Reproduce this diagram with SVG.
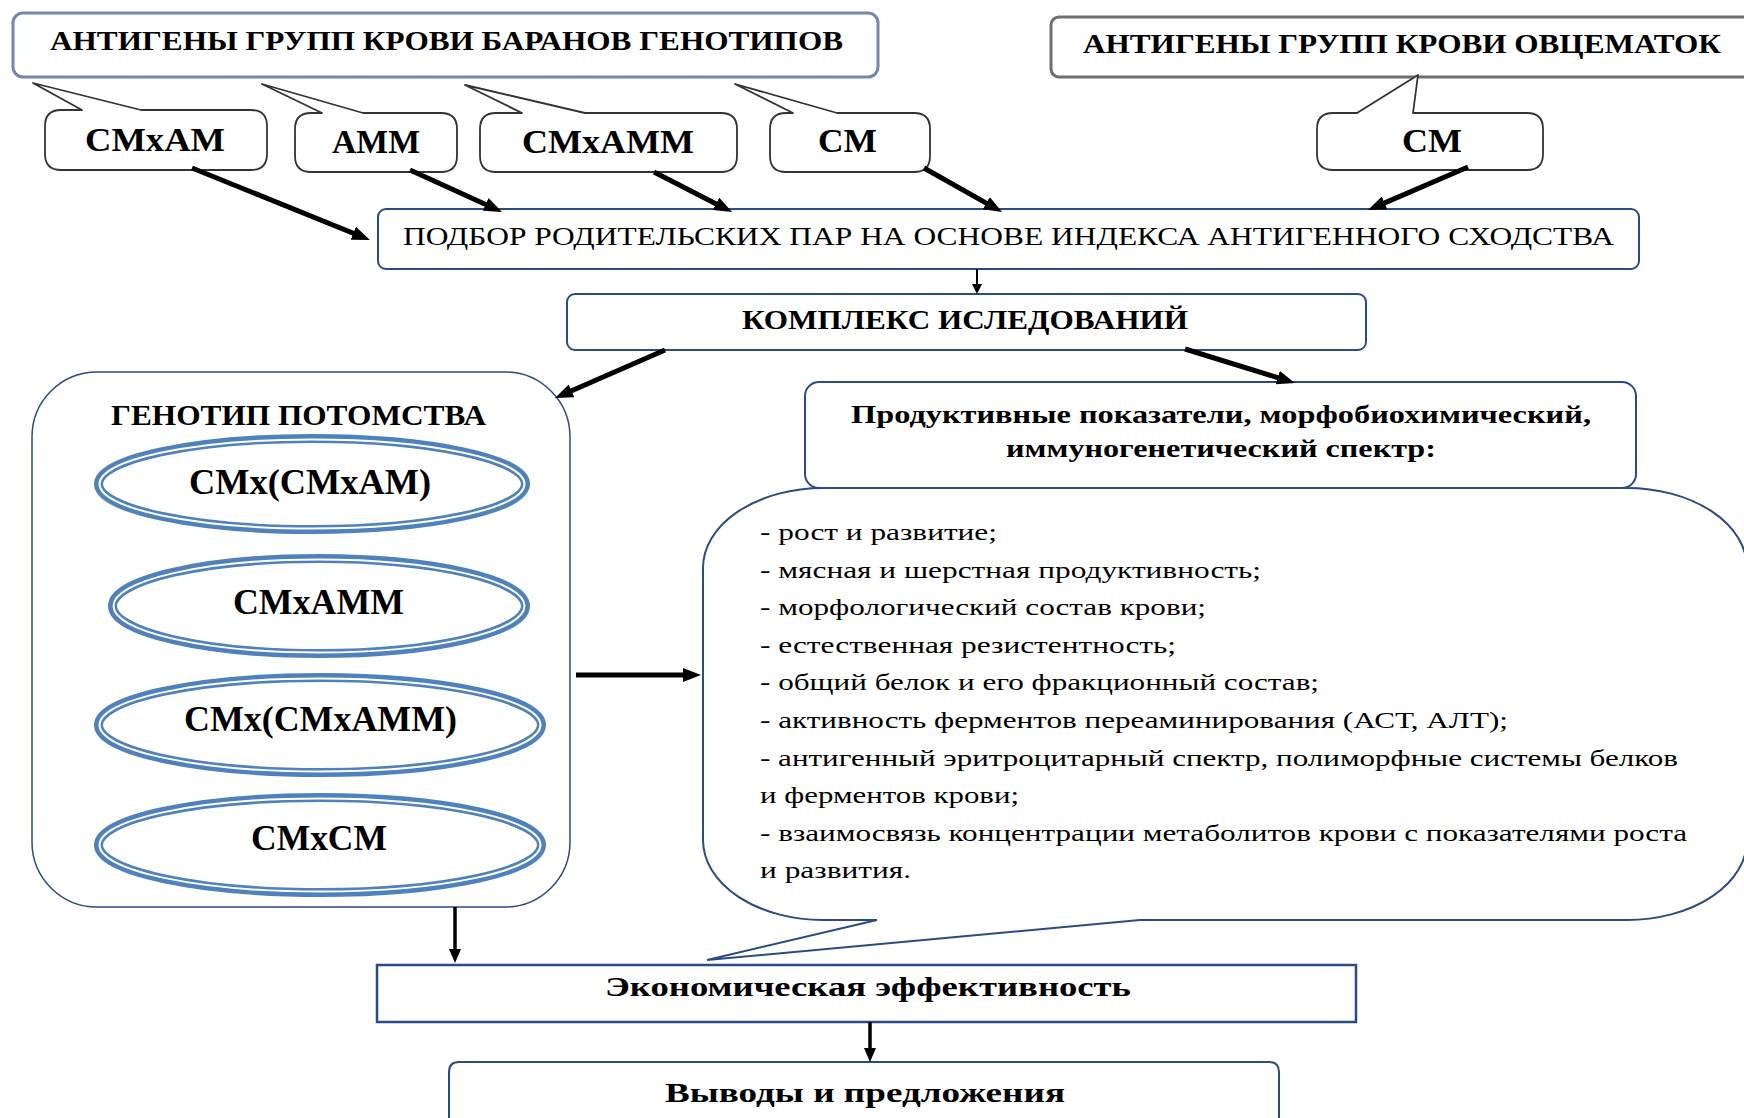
<svg xmlns="http://www.w3.org/2000/svg" width="1744" height="1118" viewBox="0 0 1744 1118">
<defs>
<style>
.t{font-family:"Liberation Serif","Times New Roman",serif;fill:#000}
.b{font-weight:bold}
.box{fill:#fff;stroke:#2c4a84;stroke-width:2}
.call{fill:#fff;stroke:#333;stroke-width:1.8;stroke-linejoin:round}
.eo{fill:#fff;stroke:#4f81bd;stroke-width:9}
.ei{fill:none;stroke:#fff;stroke-width:2}
.ar{stroke:#000;stroke-width:5;fill:none}
.am{stroke:#000;stroke-width:3.5;fill:none}
.as{stroke:#000;stroke-width:2;fill:none}
</style>
<marker id="mb" markerUnits="userSpaceOnUse" markerWidth="18" markerHeight="14" refX="8" refY="7" orient="auto"><path d="M0,0 L18,7 L0,14 z" fill="#000"/></marker>
<marker id="mm" markerUnits="userSpaceOnUse" markerWidth="14" markerHeight="12" refX="6" refY="6" orient="auto"><path d="M0,0 L14,6 L0,12 z" fill="#000"/></marker>
<marker id="ms" markerUnits="userSpaceOnUse" markerWidth="10" markerHeight="10" refX="4" refY="5" orient="auto"><path d="M0,0 L10,5 L0,10 z" fill="#000"/></marker>
</defs>
<rect width="1744" height="1118" fill="#fff"/>

<g id="rams">
<rect x="13" y="13" width="865" height="64" rx="10" fill="#fff" stroke="#7486b4" stroke-width="3"/>
<text class="t b" x="50" y="50" font-size="28" textLength="793" lengthAdjust="spacingAndGlyphs">АНТИГЕНЫ ГРУПП КРОВИ БАРАНОВ ГЕНОТИПОВ</text>
</g>
<g id="ewes">
<rect x="1051" y="17" width="720" height="60" rx="8" fill="#fff" stroke="#6e6e6e" stroke-width="3"/>
<text class="t b" x="1083" y="53" font-size="28" textLength="638" lengthAdjust="spacingAndGlyphs">АНТИГЕНЫ ГРУПП КРОВИ ОВЦЕМАТОК</text>
</g>

<g id="c1">
<path class="call" d="M82,110 L33,83 L141,110 H251 Q267,110 267,126 V154 Q267,170 251,170 H61 Q45,170 45,154 V126 Q45,110 61,110 Z"/>
<text class="t b" x="85" y="151" font-size="34" textLength="140" lengthAdjust="spacingAndGlyphs">СМхАМ</text>
</g>
<g id="c2">
<path class="call" d="M322,113 L262,84 L363,113 H441 Q457,113 457,129 V156 Q457,172 441,172 H311 Q295,172 295,156 V129 Q295,113 311,113 Z"/>
<text class="t b" x="332" y="153" font-size="34" textLength="88" lengthAdjust="spacingAndGlyphs">АММ</text>
</g>
<g id="c3">
<path class="call" d="M522,113 L465,85 L585,113 H721 Q737,113 737,129 V156 Q737,172 721,172 H496 Q480,172 480,156 V129 Q480,113 496,113 Z"/>
<text class="t b" x="522" y="153" font-size="34" textLength="172" lengthAdjust="spacingAndGlyphs">СМхАММ</text>
</g>
<g id="c4">
<path class="call" d="M793,113 L735,84 L837,113 H914 Q930,113 930,129 V156 Q930,172 914,172 H786 Q770,172 770,156 V129 Q770,113 786,113 Z"/>
<text class="t b" x="818" y="152" font-size="34" textLength="59" lengthAdjust="spacingAndGlyphs">СМ</text>
</g>
<g id="c5">
<path class="call" d="M1357,113 L1418,75 L1413,113 H1527 Q1543,113 1543,129 V154 Q1543,170 1527,170 H1333 Q1317,170 1317,154 V129 Q1317,113 1333,113 Z"/>
<text class="t b" x="1402" y="152" font-size="34" textLength="60" lengthAdjust="spacingAndGlyphs">СМ</text>
</g>

<g id="selection">
<rect class="box" x="378" y="209" width="1261" height="60" rx="8"/>
<text class="t" x="403" y="245" font-size="25" textLength="1211" lengthAdjust="spacingAndGlyphs">ПОДБОР РОДИТЕЛЬСКИХ ПАР НА ОСНОВЕ ИНДЕКСА АНТИГЕННОГО СХОДСТВА</text>
</g>

<g id="complex">
<rect class="box" x="567" y="294" width="799" height="56" rx="8"/>
<text class="t b" x="742" y="329" font-size="27" textLength="446" lengthAdjust="spacingAndGlyphs">КОМПЛЕКС ИСЛЕДОВАНИЙ</text>
</g>

<g id="genotype">
<rect x="32" y="372" width="538" height="535" rx="65" fill="#fff" stroke="#2c4a84" stroke-width="1.5"/>
<text class="t b" x="111" y="425" font-size="30" textLength="375" lengthAdjust="spacingAndGlyphs">ГЕНОТИП ПОТОМСТВА</text>
<g id="g1">
<ellipse class="eo" cx="312" cy="484" rx="213.5" ry="45.5"/>
<ellipse class="ei" cx="312" cy="484" rx="212.5" ry="44.5"/>
<text class="t b" x="189" y="494" font-size="36" textLength="242" lengthAdjust="spacingAndGlyphs">СМх(СМхАМ)</text>
</g>
<g id="g2">
<ellipse class="eo" cx="319" cy="606" rx="206.5" ry="47.5"/>
<ellipse class="ei" cx="319" cy="606" rx="205.5" ry="46.5"/>
<text class="t b" x="233" y="614" font-size="36" textLength="171" lengthAdjust="spacingAndGlyphs">СМхАММ</text>
</g>
<g id="g3">
<ellipse class="eo" cx="320" cy="725" rx="221.5" ry="47.5"/>
<ellipse class="ei" cx="320" cy="725" rx="220.5" ry="46.5"/>
<text class="t b" x="184" y="731" font-size="36" textLength="273" lengthAdjust="spacingAndGlyphs">СМх(СМхАММ)</text>
</g>
<g id="g4">
<ellipse class="eo" cx="320" cy="845" rx="221.5" ry="47.5"/>
<ellipse class="ei" cx="320" cy="845" rx="220.5" ry="46.5"/>
<text class="t b" x="251" y="850" font-size="36" textLength="136" lengthAdjust="spacingAndGlyphs">СМхСМ</text>
</g>
</g>

<g id="indicators">
<rect class="box" x="805" y="382" width="831" height="106" rx="14"/>
<text class="t b" x="851" y="423" font-size="26" textLength="740" lengthAdjust="spacingAndGlyphs">Продуктивные показатели, морфобиохимический,</text>
<text class="t b" x="1006" y="457" font-size="26" textLength="430" lengthAdjust="spacingAndGlyphs">иммуногенетический спектр:</text>
</g>

<g id="list">
<path d="M823,488 H1627 A120,80 0 0 1 1747,568 V840 A120,80 0 0 1 1627,920 H1140 L707,960 L877,920 H823 A120,80 0 0 1 703,840 V568 A120,80 0 0 1 823,488 Z" fill="#fff" stroke="#2c4a84" stroke-width="2" stroke-linejoin="miter"/>
<g class="t" font-size="24">
<text x="760" y="540" textLength="237" lengthAdjust="spacingAndGlyphs">- рост и развитие;</text>
<text x="760" y="578" textLength="501" lengthAdjust="spacingAndGlyphs">- мясная и шерстная продуктивность;</text>
<text x="760" y="615" textLength="446" lengthAdjust="spacingAndGlyphs">- морфологический состав крови;</text>
<text x="760" y="653" textLength="416" lengthAdjust="spacingAndGlyphs">- естественная резистентность;</text>
<text x="760" y="690" textLength="559" lengthAdjust="spacingAndGlyphs">- общий белок и его фракционный состав;</text>
<text x="760" y="728" textLength="748" lengthAdjust="spacingAndGlyphs">- активность ферментов переаминирования (АСТ, АЛТ);</text>
<text x="760" y="766" textLength="918" lengthAdjust="spacingAndGlyphs">- антигенный эритроцитарный спектр, полиморфные системы белков</text>
<text x="760" y="803" textLength="259" lengthAdjust="spacingAndGlyphs">и ферментов крови;</text>
<text x="760" y="841" textLength="927" lengthAdjust="spacingAndGlyphs">- взаимосвязь концентрации метаболитов крови с показателями роста</text>
<text x="760" y="878" textLength="151" lengthAdjust="spacingAndGlyphs">и развития.</text>
</g>
</g>

<g id="economy">
<rect x="377" y="965" width="979" height="57" fill="#fff" stroke="#2c4a84" stroke-width="2.5"/>
<text class="t b" x="605" y="996" font-size="28" textLength="526" lengthAdjust="spacingAndGlyphs">Экономическая эффективность</text>
</g>

<g id="conclusions">
<path d="M449,1130 V1072 Q449,1062 459,1062 H1269 Q1279,1062 1279,1072 V1130" fill="#fff" stroke="#2c4a84" stroke-width="2"/>
<text class="t b" x="665" y="1102" font-size="28" textLength="400" lengthAdjust="spacingAndGlyphs">Выводы и предложения</text>
</g>

<g id="connectors">
<line class="ar" x1="192" y1="168" x2="360.7" y2="236.2" marker-end="url(#mb)"/>
<line class="ar" x1="410" y1="170" x2="492.9" y2="207.8" marker-end="url(#mb)"/>
<line class="ar" x1="654" y1="172" x2="723.1" y2="207.4" marker-end="url(#mb)"/>
<line class="ar" x1="924" y1="168" x2="993.3" y2="207.1" marker-end="url(#mb)"/>
<line class="ar" x1="1468" y1="167" x2="1377.2" y2="206.1" marker-end="url(#mb)"/>
<line class="as" x1="977" y1="269" x2="977" y2="288" marker-end="url(#ms)"/>
<line class="ar" x1="665" y1="350" x2="564.2" y2="394" marker-end="url(#mb)"/>
<line class="ar" x1="1185" y1="349" x2="1285.4" y2="380" marker-end="url(#mb)"/>
<line class="ar" x1="576" y1="675" x2="691" y2="675" marker-end="url(#mb)"/>
<line class="am" x1="455" y1="907" x2="455" y2="955" marker-end="url(#mm)"/>
<line class="am" x1="870" y1="1022" x2="870" y2="1054" marker-end="url(#mm)"/>
</g>
</svg>
